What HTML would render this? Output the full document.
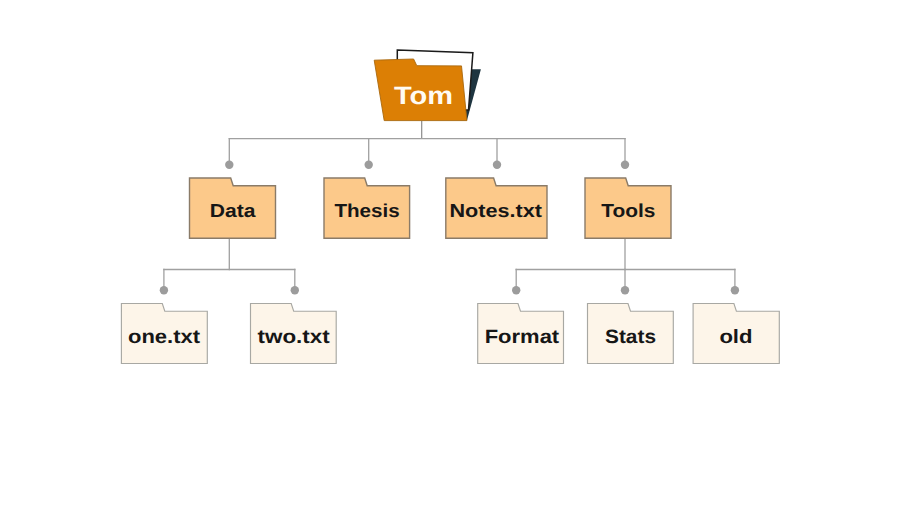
<!DOCTYPE html>
<html><head><meta charset="utf-8"><style>
html,body{margin:0;padding:0;background:#fff;}
svg{display:block;}
text{font-family:"Liberation Sans",sans-serif;font-weight:bold;text-rendering:geometricPrecision;}
</style></head><body>
<svg width="900" height="506" viewBox="0 0 900 506">
<line x1="421.7" y1="121" x2="421.7" y2="138.6" stroke="#8a8a8a" stroke-width="1.2"/>
<line x1="229.3" y1="138.6" x2="625" y2="138.6" stroke="#a0a0a0" stroke-width="1.3" stroke-linecap="square"/>
<line x1="229.3" y1="138.6" x2="229.3" y2="164.8" stroke="#a0a0a0" stroke-width="1.3" stroke-linecap="square"/>
<circle cx="229.3" cy="164.8" r="4.2" fill="#9c9c9c"/>
<line x1="368.7" y1="138.6" x2="368.7" y2="164.8" stroke="#a0a0a0" stroke-width="1.3" stroke-linecap="square"/>
<circle cx="368.7" cy="164.8" r="4.2" fill="#9c9c9c"/>
<line x1="497" y1="138.6" x2="497" y2="164.8" stroke="#a0a0a0" stroke-width="1.3" stroke-linecap="square"/>
<circle cx="497" cy="164.8" r="4.2" fill="#9c9c9c"/>
<line x1="625" y1="138.6" x2="625" y2="164.8" stroke="#a0a0a0" stroke-width="1.3" stroke-linecap="square"/>
<circle cx="625" cy="164.8" r="4.2" fill="#9c9c9c"/>
<line x1="229.3" y1="238" x2="229.3" y2="269.5" stroke="#a0a0a0" stroke-width="1.3" stroke-linecap="square"/>
<line x1="163.9" y1="269.5" x2="294.8" y2="269.5" stroke="#a0a0a0" stroke-width="1.3" stroke-linecap="square"/>
<line x1="163.9" y1="269.5" x2="163.9" y2="290.3" stroke="#a0a0a0" stroke-width="1.3" stroke-linecap="square"/>
<circle cx="163.9" cy="290.3" r="4.2" fill="#9c9c9c"/>
<line x1="294.8" y1="269.5" x2="294.8" y2="290.3" stroke="#a0a0a0" stroke-width="1.3" stroke-linecap="square"/>
<circle cx="294.8" cy="290.3" r="4.2" fill="#9c9c9c"/>
<line x1="625" y1="238" x2="625" y2="269.5" stroke="#a0a0a0" stroke-width="1.3" stroke-linecap="square"/>
<line x1="516.2" y1="269.5" x2="734.9" y2="269.5" stroke="#a0a0a0" stroke-width="1.3" stroke-linecap="square"/>
<line x1="516.2" y1="269.5" x2="516.2" y2="290.3" stroke="#a0a0a0" stroke-width="1.3" stroke-linecap="square"/>
<circle cx="516.2" cy="290.3" r="4.2" fill="#9c9c9c"/>
<line x1="625" y1="269.5" x2="625" y2="290.3" stroke="#a0a0a0" stroke-width="1.3" stroke-linecap="square"/>
<circle cx="625" cy="290.3" r="4.2" fill="#9c9c9c"/>
<line x1="734.9" y1="269.5" x2="734.9" y2="290.3" stroke="#a0a0a0" stroke-width="1.3" stroke-linecap="square"/>
<circle cx="734.9" cy="290.3" r="4.2" fill="#9c9c9c"/>
<path d="M189.5,238.3 L189.5,178 L230.7,178 L233.2,185.7 L275.5,185.7 L275.5,238.3 Z" fill="#fcc98a" stroke="#8a7b68" stroke-width="1.4" stroke-linejoin="miter"/>
<text x="209.8" y="217.1" font-size="18.8" textLength="45.599999999999994" lengthAdjust="spacingAndGlyphs" fill="#161616">Data</text>
<path d="M324,238.3 L324,178 L364.7,178 L367.2,185.7 L409.6,185.7 L409.6,238.3 Z" fill="#fcc98a" stroke="#8a7b68" stroke-width="1.4" stroke-linejoin="miter"/>
<text x="334.4" y="217.1" font-size="18.8" textLength="65.30000000000001" lengthAdjust="spacingAndGlyphs" fill="#161616">Thesis</text>
<path d="M445.8,238.3 L445.8,178 L493.59999999999997,178 L496.09999999999997,185.7 L547,185.7 L547,238.3 Z" fill="#fcc98a" stroke="#8a7b68" stroke-width="1.4" stroke-linejoin="miter"/>
<text x="449.5" y="217.1" font-size="18.8" textLength="92.5" lengthAdjust="spacingAndGlyphs" fill="#161616">Notes.txt</text>
<path d="M585,238.3 L585,178 L625.7,178 L628.2,185.7 L671,185.7 L671,238.3 Z" fill="#fcc98a" stroke="#8a7b68" stroke-width="1.4" stroke-linejoin="miter"/>
<text x="601.3" y="217.1" font-size="18.8" textLength="54.200000000000045" lengthAdjust="spacingAndGlyphs" fill="#161616">Tools</text>
<path d="M121.4,363.5 L121.4,303.5 L162.29999999999998,303.5 L164.79999999999998,311.2 L207.3,311.2 L207.3,363.5 Z" fill="#fdf5e9" stroke="#a8a8a3" stroke-width="1.15" stroke-linejoin="miter"/>
<text x="128" y="342.6" font-size="19.3" textLength="72.1" lengthAdjust="spacingAndGlyphs" fill="#161616">one.txt</text>
<path d="M250.5,363.5 L250.5,303.5 L291.2,303.5 L293.7,311.2 L336.2,311.2 L336.2,363.5 Z" fill="#fdf5e9" stroke="#a8a8a3" stroke-width="1.15" stroke-linejoin="miter"/>
<text x="257.5" y="342.6" font-size="19.3" textLength="72.19999999999999" lengthAdjust="spacingAndGlyphs" fill="#161616">two.txt</text>
<path d="M477.7,363.5 L477.7,303.5 L518.0,303.5 L520.5,311.2 L563.5,311.2 L563.5,363.5 Z" fill="#fdf5e9" stroke="#a8a8a3" stroke-width="1.15" stroke-linejoin="miter"/>
<text x="484.7" y="342.6" font-size="19.3" textLength="74.50000000000006" lengthAdjust="spacingAndGlyphs" fill="#161616">Format</text>
<path d="M587.5,363.5 L587.5,303.5 L628.0,303.5 L630.5,311.2 L673.3,311.2 L673.3,363.5 Z" fill="#fdf5e9" stroke="#a8a8a3" stroke-width="1.15" stroke-linejoin="miter"/>
<text x="605" y="342.6" font-size="19.3" textLength="51" lengthAdjust="spacingAndGlyphs" fill="#161616">Stats</text>
<path d="M693.1,363.5 L693.1,303.5 L733.9000000000001,303.5 L736.4000000000001,311.2 L779.3,311.2 L779.3,363.5 Z" fill="#fdf5e9" stroke="#a8a8a3" stroke-width="1.15" stroke-linejoin="miter"/>
<text x="719.4" y="342.6" font-size="19.3" textLength="33.10000000000002" lengthAdjust="spacingAndGlyphs" fill="#161616">old</text>
<polygon points="471.2,69.2 480.9,69.2 467,120.2 460,120.2" fill="#1e3540"/>
<polygon points="397.3,50.1 472.9,52.7 468.5,110 397.3,110" fill="#ffffff" stroke="#1a1a1a" stroke-width="1.5"/>
<polygon points="374.2,60.2 413.6,59 416.8,65.7 461.5,65.9 466.9,120.6 384.2,120.6" fill="#dc7f05" stroke="#a9680c" stroke-width="0.9"/>
<text x="393.9" y="104.4" font-size="25" textLength="59.10000000000002" lengthAdjust="spacingAndGlyphs" fill="#fffbf3">Tom</text>
</svg>
</body></html>
